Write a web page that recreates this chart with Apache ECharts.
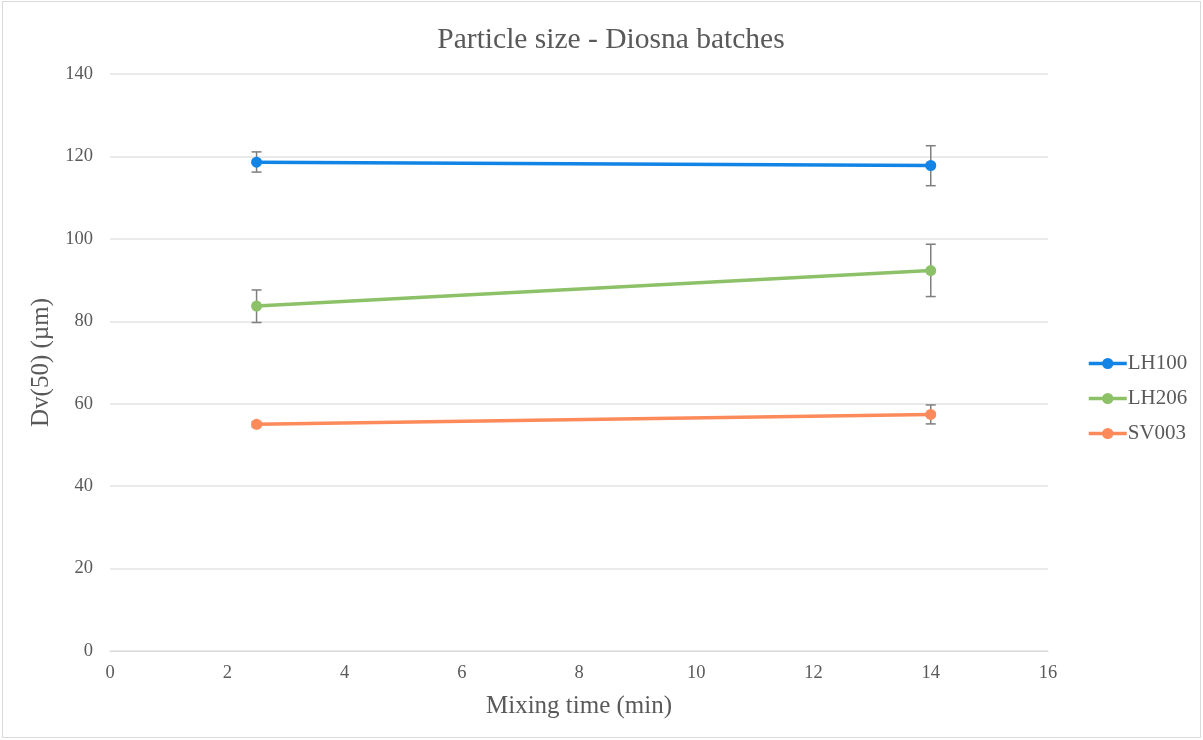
<!DOCTYPE html>
<html><head><meta charset="utf-8">
<script src="https://cdn.jsdelivr.net/npm/echarts@6/dist/echarts.min.js"></script>
<style>html,body{margin:0;padding:0;background:#fff}#c{width:1203px;height:740px}</style>
</head><body><div id="c"></div>
<script>
const xValues = [2.5, 14];
const seriesNames = ['LH100', 'LH206', 'SV003'];
const lh100 = [118.6, 117.8];
const lh206 = [83.7, 92.3];
const sv003 = [55.0, 57.4];
const lh100Err = [[116.2, 121.1], [112.9, 122.6]];
const lh206Err = [[79.7, 87.6], [86.0, 98.7]];
const sv003Err = [[54.4, 55.6], [55.1, 59.7]];
const colors = ['#1184e6', '#8cc168', '#fc8a5a'];

const values = [lh100, lh206, sv003];
const errs = [lh100Err, lh206Err, sv003Err];
const font = '"Liberation Serif", "Times New Roman", serif';

const series = [];
seriesNames.forEach((n, i) => {
  series.push({
    name: n, type: 'line', data: xValues.map((x, j) => [x, values[i][j]]),
    symbol: 'circle', symbolSize: 11, lineStyle: {width: 3.5, color: colors[i]},
    itemStyle: {color: colors[i]}, z: 3
  });
  series.push({
    name: n + '_err', type: 'custom', z: 2,
    data: xValues.map((x, j) => [x, errs[i][j][0], errs[i][j][1]]),
    renderItem: function (params, api) {
      const lo = api.coord([api.value(0), api.value(1)]);
      const hi = api.coord([api.value(0), api.value(2)]);
      const hw = 5;
      const st = {stroke: '#7f7f7f', lineWidth: 1.5};
      return {type: 'group', children: [
        {type: 'line', shape: {x1: lo[0], y1: lo[1], x2: hi[0], y2: hi[1]}, style: st},
        {type: 'line', shape: {x1: lo[0]-hw, y1: lo[1], x2: lo[0]+hw, y2: lo[1]}, style: st},
        {type: 'line', shape: {x1: hi[0]-hw, y1: hi[1], x2: hi[0]+hw, y2: hi[1]}, style: st}
      ]};
    }
  });
});

const chart = echarts.init(document.getElementById('c'));
chart.setOption({
  animation: false,
  backgroundColor: '#fff',
  graphic: [{type: 'rect', shape: {x: 2.5, y: 1.5, width: 1198, height: 736}, style: {fill: 'none', stroke: '#d9d9d9', lineWidth: 1}, silent: true}],
  title: {text: 'Particle size - Diosna batches', left: 606, top: 20, textAlign: 'center',
    textStyle: {fontFamily: font, fontSize: 29.5, fontWeight: 'normal', color: '#595959'}},
  grid: {left: 110, right: 155, top: 74, bottom: 89},
  legend: {
    orient: 'vertical', left: 1082, top: 348, itemGap: 14, itemWidth: 38, itemHeight: 14,
    data: seriesNames,
    lineStyle: {width: 3.5},
    textStyle: {fontFamily: font, fontSize: 21, lineHeight: 15, color: '#595959', padding: [0,0,0,-4]}
  },
  xAxis: {
    type: 'value', min: 0, max: 16, interval: 2,
    name: 'Mixing time (min)', nameLocation: 'middle', nameGap: 43,
    nameTextStyle: {fontFamily: font, fontSize: 25, color: '#595959'},
    axisLine: {show: true, lineStyle: {color: '#d9d9d9'}}, axisTick: {show: false},
    axisLabel: {fontFamily: font, fontSize: 18.5, color: '#595959', margin: 13},
    splitLine: {show: false}
  },
  yAxis: {
    type: 'value', min: 0, max: 140, interval: 20,
    name: 'Dv(50) (µm)', nameLocation: 'middle', nameGap: 48,
    nameTextStyle: {fontFamily: font, fontSize: 25, color: '#595959'},
    axisLine: {show: false}, axisTick: {show: false},
    axisLabel: {fontFamily: font, fontSize: 18.5, color: '#595959', margin: 17},
    splitLine: {lineStyle: {color: '#e3e3e3', width: 1.5}}
  },
  series: series
});
</script></body></html>
